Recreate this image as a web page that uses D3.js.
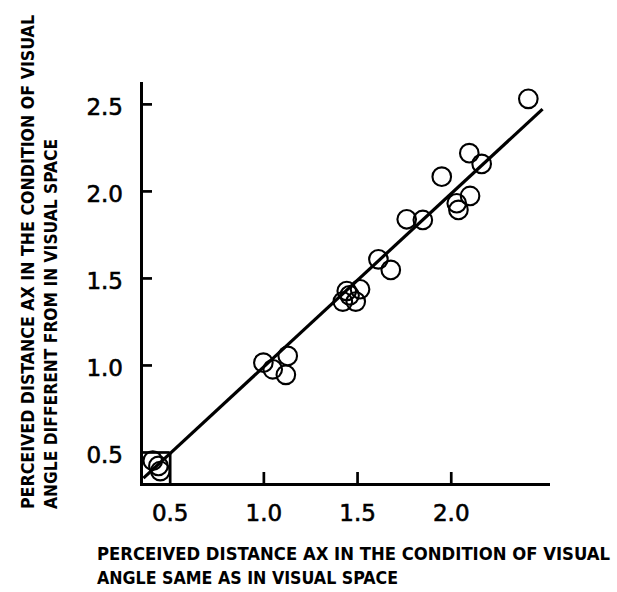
<!DOCTYPE html>
<html>
<head>
<meta charset="utf-8">
<script src="https://cdn.jsdelivr.net/npm/d3@7"></script>
<style>
    body { margin: 0; background: #fff; }
    svg { display: block; }
</style>
</head>
<body>
<div id="chart"></div>
<script>
var xValues = [0.41, 0.44, 0.45, 1.00, 1.05, 1.13, 1.12, 1.445, 1.516, 1.424, 1.493, 1.46, 1.614, 1.680, 1.765, 1.851, 1.952, 2.032, 2.041, 2.103, 2.099, 2.165, 2.414];
var yValues = [0.45, 0.42, 0.39, 1.013, 0.975, 1.052, 0.943, 1.425, 1.435, 1.364, 1.364, 1.40, 1.607, 1.546, 1.837, 1.833, 2.082, 1.929, 1.891, 1.971, 2.217, 2.155, 2.529];

//fitted line end points
var fitX = [0.36, 2.49];
var fitY = [0.35, 2.47];

//tick values
var xTicks = [0.5, 1.0, 1.5, 2.0];
var yTicks = [0.5, 1.0, 1.5, 2.0, 2.5];

//axis titles
var xTitle = ['PERCEIVED DISTANCE AX IN THE CONDITION OF VISUAL', 'ANGLE SAME AS IN VISUAL SPACE'];
var yTitle = ['PERCEIVED DISTANCE AX IN THE CONDITION OF VISUAL', 'ANGLE DIFFERENT FROM IN VISUAL SPACE'];

var width = 617,
    height = 592,
    plot = { left: 141, right: 548, top: 83, bottom: 484 };

//create svg
var svg = d3.select('#chart').append('svg')
    .attr('width', width)
    .attr('height', height);

//create scales
var xScale = d3.scaleLinear().domain([0.347, 2.519]).range([plot.left, plot.right]);
var yScale = d3.scaleLinear().domain([0.316, 2.62]).range([plot.bottom, plot.top]);

//create x axis with inward ticks
var xAxisG = svg.append('g')
    .attr('transform', 'translate(0,' + plot.bottom + ')')
    .call(d3.axisBottom(xScale).tickValues(xTicks).tickFormat(d3.format('.1f'))
        .tickSizeInner(-12).tickSizeOuter(0).tickPadding(21));

//create y axis with inward ticks
var yAxisG = svg.append('g')
    .attr('transform', 'translate(' + plot.left + ',0)')
    .call(d3.axisLeft(yScale).tickValues(yTicks).tickFormat(d3.format('.1f'))
        .tickSizeInner(-11).tickSizeOuter(0).tickPadding(18));

//style both axes
[xAxisG, yAxisG].forEach(function (g) {
    g.select('.domain').attr('stroke', '#000').attr('stroke-width', 3).attr('stroke-linecap', 'square');
    g.selectAll('.tick line').attr('stroke', '#000').attr('stroke-width', 2.7);
    g.selectAll('.tick text')
        .attr('fill', '#000')
        .attr('stroke', '#000')
        .attr('stroke-width', 0.6)
        .style('font-family', '"DejaVu Sans", sans-serif')
        .style('font-size', '23px');
});

//0.5 ticks run out to meet each other and form the small box
xAxisG.selectAll('.tick').filter(function (d) { return d === 0.5; })
    .select('line').attr('y2', yScale(0.5) - plot.bottom);
yAxisG.selectAll('.tick').filter(function (d) { return d === 0.5; })
    .select('line').attr('x2', xScale(0.5) - plot.left);
yAxisG.selectAll('.tick text').attr('dy', '0.47em');

//draw fitted line
svg.append('line')
    .attr('x1', xScale(fitX[0])).attr('y1', yScale(fitY[0]))
    .attr('x2', xScale(fitX[1])).attr('y2', yScale(fitY[1]))
    .attr('stroke', '#000')
    .attr('stroke-width', 3.2);

//draw open circles
svg.append('g').selectAll('circle')
    .data(xValues)
    .enter().append('circle')
    .attr('cx', function (d) { return xScale(d); })
    .attr('cy', function (d, i) { return yScale(yValues[i]); })
    .attr('r', 9.3)
    .attr('fill', 'none')
    .attr('stroke', '#000')
    .attr('stroke-width', 2.1);

//x axis title
svg.append('g').selectAll('text')
    .data(xTitle)
    .enter().append('text')
    .attr('x', 97)
    .attr('y', function (d, i) { return 560 + i * 23.5; })
    .attr('textLength', function (d, i) { return i === 0 ? 513 : 301; })
    .attr('lengthAdjust', 'spacingAndGlyphs')
    .style('font-family', '"DejaVu Sans", sans-serif')
    .style('font-stretch', 'condensed')
    .style('font-weight', 'bold')
    .style('font-size', '18px')
    .text(function (d) { return d; });

//y axis title
svg.append('g').selectAll('text')
    .data(yTitle)
    .enter().append('text')
    .attr('transform', function (d, i) { return 'translate(' + (34 + i * 23) + ',509) rotate(-90)'; })
    .attr('textLength', function (d, i) { return i === 0 ? 494 : 370; })
    .attr('lengthAdjust', 'spacingAndGlyphs')
    .style('font-family', '"DejaVu Sans", sans-serif')
    .style('font-stretch', 'condensed')
    .style('font-weight', 'bold')
    .style('font-size', '18.5px')
    .text(function (d) { return d; });
</script>
</body>
</html>
